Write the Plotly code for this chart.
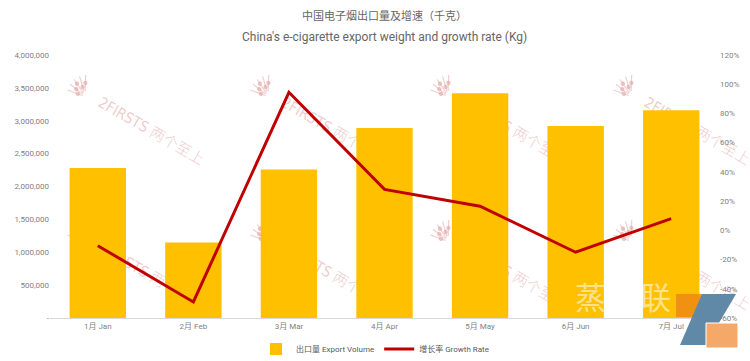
import base64
import plotly.graph_objects as go

months = ["1月 Jan", "2月 Feb", "3月 Mar", "4月 Apr", "5月 May", "6月 Jun", "7月 Jul"]
export_volume = [2280000, 1150000, 2260000, 2890000, 3420000, 2920000, 3160000]
growth_rate = [-10.5, -49.0, 94.5, 28.0, 16.5, -15.0, 8.0]

left_ticks = [0, 500000, 1000000, 1500000, 2000000, 2500000, 3000000, 3500000, 4000000]
left_labels = ["-", "500,000", "1,000,000", "1,500,000", "2,000,000", "2,500,000",
               "3,000,000", "3,500,000", "4,000,000"]
right_ticks = [-60, -40, -20, 0, 20, 40, 60, 80, 100, 120]
right_labels = [f"{v}%" for v in right_ticks]

FONT = "Roboto, 'Noto Sans CJK SC', sans-serif"
GRAY = "#7f7f7f"

W, H = 750, 361
L, R, T, B = 50, 31, 55, 43
PW, PH = W - L - R, H - T - B

# ---- background watermark (SVG image drawn below the traces) ----
wm_parts = []
for cy in (95, 240):
    for cx in (87, 270, 450, 633):
        g = [f'<g transform="translate({cx},{cy})" stroke="rgba(225,160,160,0.5)" fill="rgba(225,160,160,0.5)">']
        for i, a in enumerate((-70, -52, -34, -16, 2)):
            g.append(f'<g transform="rotate({a})"><line x1="-2" y1="-4" x2="-2" y2="-20" stroke-width="1.2"/>'
                     f'<circle cx="-2" cy="-{9 + 3 * (i % 3)}" r="1.7"/></g>')
        g.append('<text x="14" y="4" transform="rotate(30)" font-family="\'DejaVu Sans Condensed\', \'Noto Sans CJK SC\', sans-serif" '
                 'font-size="15" font-weight="300" stroke="none" fill="rgba(225,160,160,0.55)">2FIRSTS 两个至上</text>')
        g.append('</g>')
        wm_parts.append("".join(g))
svg = (f'<svg xmlns="http://www.w3.org/2000/svg" width="{W}" height="{H}" viewBox="0 0 {W} {H}">'
       + "".join(wm_parts) + '</svg>')
svg_uri = "data:image/svg+xml;base64," + base64.b64encode(svg.encode("utf-8")).decode()


def px(x):
    return (x - L) / PW


def py(y):
    return (H - B - y) / PH


fig = go.Figure()
fig.add_trace(go.Bar(
    x=months, y=export_volume, name="出口量 Export Volume",
    marker=dict(color="#ffc000", line=dict(width=0)), yaxis="y",
))
fig.add_trace(go.Scatter(
    x=months, y=growth_rate, name="增长率 Growth Rate", mode="lines",
    line=dict(color="#c00000", width=3), yaxis="y2",
))

annotations = [
    dict(x=0.5, y=py(16), xref="paper", yref="paper", text="中国电子烟出口量及增速（千克）",
         showarrow=False, yanchor="middle", font=dict(size=11, color="#666666", family=FONT)),
    dict(x=0.5, y=py(37), xref="paper", yref="paper",
         text="China's e-cigarette export weight and growth rate (Kg)",
         showarrow=False, yanchor="middle", font=dict(size=12, color="#666666", family=FONT)),
]
for ch, cxp in (("蒸", 590), ("汽", 622), ("联", 655)):
    annotations.append(dict(x=px(cxp), y=py(319), xref="paper", yref="paper", text=ch,
                            showarrow=False, yanchor="bottom", xanchor="center", borderpad=0,
                            font=dict(size=31, color="rgba(255,255,255,0.55)",
                                      family="Noto Sans CJK SC")))

fig.update_layout(
    width=W, height=H,
    margin=dict(l=L, r=R, t=T, b=B, autoexpand=False),
    paper_bgcolor="white", plot_bgcolor="rgba(0,0,0,0)",
    font=dict(family=FONT, color=GRAY, size=8),
    bargap=0.41,
    xaxis=dict(showgrid=False, showline=True, linecolor="#d9d9d9", linewidth=1,
               ticks="", automargin=False, tickfont=dict(size=8, color=GRAY)),
    yaxis=dict(range=[0, 4000000], tickvals=left_ticks, ticktext=left_labels,
               showgrid=False, zeroline=False, showline=False, ticks="", automargin=False,
               tickfont=dict(size=8, color=GRAY)),
    yaxis2=dict(range=[-60, 120], tickvals=right_ticks, ticktext=right_labels,
                overlaying="y", side="right", showgrid=False, zeroline=False,
                showline=False, ticks="", automargin=False, tickfont=dict(size=8, color=GRAY)),
    legend=dict(orientation="h", x=0.5, xref="container", xanchor="center",
                y=12 / H, yref="container", yanchor="middle",
                font=dict(size=8, color="#595959"), itemwidth=30),
    annotations=annotations,
    images=[dict(source=svg_uri, xref="paper", yref="paper", x=px(0), y=py(0),
                 sizex=W / PW, sizey=H / PH, xanchor="left", yanchor="top",
                 sizing="stretch", layer="below")],
    shapes=[
        dict(type="rect", xref="paper", yref="paper", x0=px(676), x1=px(702), y0=py(317), y1=py(294),
             fillcolor="rgba(240,140,20,0.9)", line=dict(width=0), layer="above"),
        dict(type="path", xref="paper", yref="paper",
             path=f"M {px(702)},{py(294)} L {px(736)},{py(294)} L {px(706)},{py(345)} L {px(680)},{py(345)} Z",
             fillcolor="#6089a8", line=dict(width=0), layer="above"),
        dict(type="rect", xref="paper", yref="paper", x0=px(706), x1=px(738), y0=py(348), y1=py(323),
             fillcolor="#f4a968", line=dict(color="white", width=1), layer="above"),
    ],
)

fig.write_html("out.html", config={"displayModeBar": False},
               post_script="document.body.style.margin='0';document.body.style.overflow='hidden';")
